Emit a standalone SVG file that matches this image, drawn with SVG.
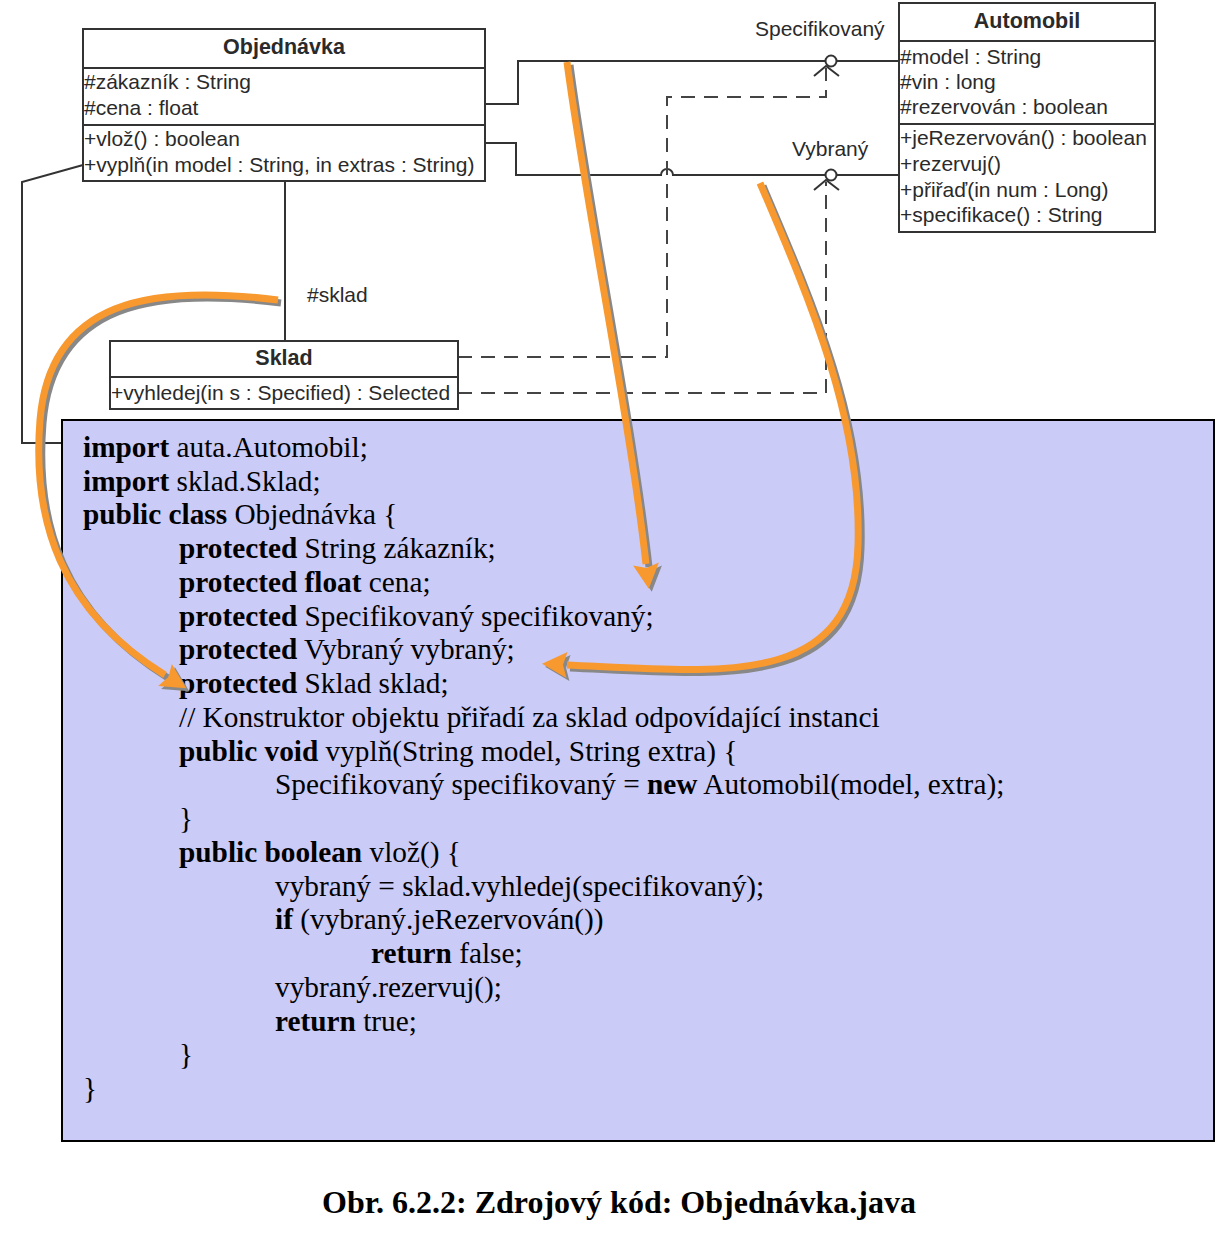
<svg xmlns="http://www.w3.org/2000/svg" width="1230" height="1236" viewBox="0 0 1230 1236">
<style>
.box{fill:#fff;stroke:#333;stroke-width:2}
.sep{stroke:#333;stroke-width:2}
.u{font-family:"Liberation Sans",Arial,sans-serif;font-size:21px;fill:#2a2a2a}
.ub{font-family:"Liberation Sans",Arial,sans-serif;font-size:21.5px;font-weight:bold;fill:#2a2a2a;text-anchor:middle}
.ln{fill:none;stroke:#333;stroke-width:2}
.dash{fill:none;stroke:#444;stroke-width:2;stroke-dasharray:14 9}
.c{font-family:"Liberation Serif","Times New Roman",serif;font-size:29.3px;fill:#000}
.c tspan.b{font-weight:bold}
.sh{fill:none;stroke:#888;stroke-width:7}
.or{fill:none;stroke:#f7992f;stroke-width:7}
</style>
<defs>
<marker id="ao" markerUnits="userSpaceOnUse" markerWidth="32" markerHeight="32" viewBox="-2 -16 32 32" refX="0" refY="0" orient="auto">
<path d="M0,-13 L25,0 L0,13 L4,0 z" fill="#f7992f"/>
</marker>
<marker id="ag" markerUnits="userSpaceOnUse" markerWidth="32" markerHeight="32" viewBox="-2 -16 32 32" refX="0" refY="0" orient="auto">
<path d="M0,-13 L25,0 L0,13 L4,0 z" fill="#888"/>
</marker>
</defs>
<rect width="1230" height="1236" fill="#fff"/>

<g id="connectors">
<path class="ln" d="M485,104 L518,104 L518,61 L899,61"/>
<path class="ln" d="M485,143 L516,143 L516,175 L661,175 A6,6 0 0 1 673,175 L899,175"/>
<path class="ln" d="M285,181 L285,341"/>
<path class="ln" d="M83,165 L22,182 L22,443 L62,443"/>
<path class="dash" d="M458,357 L667,357 L667,97 L826,97 L826,68"/>
<path class="dash" d="M458,393 L826,393 L826,182"/>
<circle cx="831" cy="61" r="5.5" fill="#fff" stroke="#333" stroke-width="2"/>
<circle cx="831" cy="175" r="5.5" fill="#fff" stroke="#333" stroke-width="2"/>
<path class="ln" d="M814,76 L826,66 L839,76"/>
<path class="ln" d="M814,190 L826,180 L839,190"/>
<text class="u" x="755" y="36">Specifikovaný</text>
<text class="u" x="792" y="156">Vybraný</text>
<text class="u" x="307" y="302">#sklad</text>
</g>

<g id="objednavka">
<rect class="box" x="83" y="29" width="402" height="152"/>
<line class="sep" x1="83" y1="68" x2="485" y2="68"/>
<line class="sep" x1="83" y1="125" x2="485" y2="125"/>
<text class="ub" x="284" y="54">Objednávka</text>
<text class="u" x="84" y="89">#zákazník : String</text>
<text class="u" x="84" y="115">#cena : float</text>
<text class="u" x="84" y="146">+vlož() : boolean</text>
<text class="u" x="84" y="172">+vyplň(in model : String, in extras : String)</text>
</g>

<g id="automobil">
<rect class="box" x="899" y="3" width="256" height="229"/>
<line class="sep" x1="899" y1="41" x2="1155" y2="41"/>
<line class="sep" x1="899" y1="124" x2="1155" y2="124"/>
<text class="ub" x="1027" y="28">Automobil</text>
<text class="u" x="900" y="64">#model : String</text>
<text class="u" x="900" y="89">#vin : long</text>
<text class="u" x="900" y="114">#rezervován : boolean</text>
<text class="u" x="900" y="145">+jeRezervován() : boolean</text>
<text class="u" x="900" y="171">+rezervuj()</text>
<text class="u" x="900" y="197">+přiřaď(in num : Long)</text>
<text class="u" x="900" y="222">+specifikace() : String</text>
</g>

<g id="sklad">
<rect class="box" x="110" y="341" width="348" height="68"/>
<line class="sep" x1="110" y1="377" x2="458" y2="377"/>
<text class="ub" x="284" y="365">Sklad</text>
<text class="u" x="111" y="400">+vyhledej(in s : Specified) : Selected</text>
</g>

<g id="code">
<rect x="62" y="420" width="1152" height="721" fill="#cbcbf8" stroke="#000" stroke-width="2"/>
<text class="c" x="83" y="457"><tspan class="b">import</tspan> auta.Automobil;</text>
<text class="c" x="83" y="491"><tspan class="b">import</tspan> sklad.Sklad;</text>
<text class="c" x="83" y="524"><tspan class="b">public class</tspan> Objednávka {</text>
<text class="c" x="179" y="558"><tspan class="b">protected</tspan> String zákazník;</text>
<text class="c" x="179" y="592"><tspan class="b">protected float</tspan> cena;</text>
<text class="c" x="179" y="626"><tspan class="b">protected</tspan> Specifikovaný specifikovaný;</text>
<text class="c" x="179" y="659"><tspan class="b">protected</tspan> Vybraný vybraný;</text>
<text class="c" x="179" y="693"><tspan class="b">protected</tspan> Sklad sklad;</text>
<text class="c" x="179" y="727">// Konstruktor objektu přiřadí za sklad odpovídající instanci</text>
<text class="c" x="179" y="761"><tspan class="b">public void</tspan> vyplň(String model, String extra) {</text>
<text class="c" x="275" y="794">Specifikovaný specifikovaný = <tspan class="b">new</tspan> Automobil(model, extra);</text>
<text class="c" x="179" y="828">}</text>
<text class="c" x="179" y="862"><tspan class="b">public boolean</tspan> vlož() {</text>
<text class="c" x="275" y="896">vybraný = sklad.vyhledej(specifikovaný);</text>
<text class="c" x="275" y="929"><tspan class="b">if</tspan> (vybraný.jeRezervován())</text>
<text class="c" x="371" y="963"><tspan class="b">return</tspan> false;</text>
<text class="c" x="275" y="997">vybraný.rezervuj();</text>
<text class="c" x="275" y="1031"><tspan class="b">return</tspan> true;</text>
<text class="c" x="179" y="1064">}</text>
<text class="c" x="83" y="1098">}</text>
</g>

<g id="highlights">
<g transform="translate(3,3)">
<path class="sh" marker-end="url(#ag)" d="M278,300 C150,284 50,300 40,420 C32,520 60,610 165,675"/>
<path class="sh" marker-end="url(#ag)" d="M567,62 C585,200 630,420 646,564"/>
<path class="sh" marker-end="url(#ag)" d="M760,183 C810,300 862,420 858,545 C854,690 720,672 567,665"/>
</g>
<path class="or" marker-end="url(#ao)" d="M278,300 C150,284 50,300 40,420 C32,520 60,610 165,675"/>
<path class="or" marker-end="url(#ao)" d="M567,62 C585,200 630,420 646,564"/>
<path class="or" marker-end="url(#ao)" d="M760,183 C810,300 862,420 858,545 C854,690 720,672 567,665"/>
</g>

<text x="619" y="1213" text-anchor="middle" font-family="Liberation Serif,'Times New Roman',serif" font-size="32" font-weight="bold">Obr. 6.2.2: Zdrojový kód: Objednávka.java</text>
</svg>
